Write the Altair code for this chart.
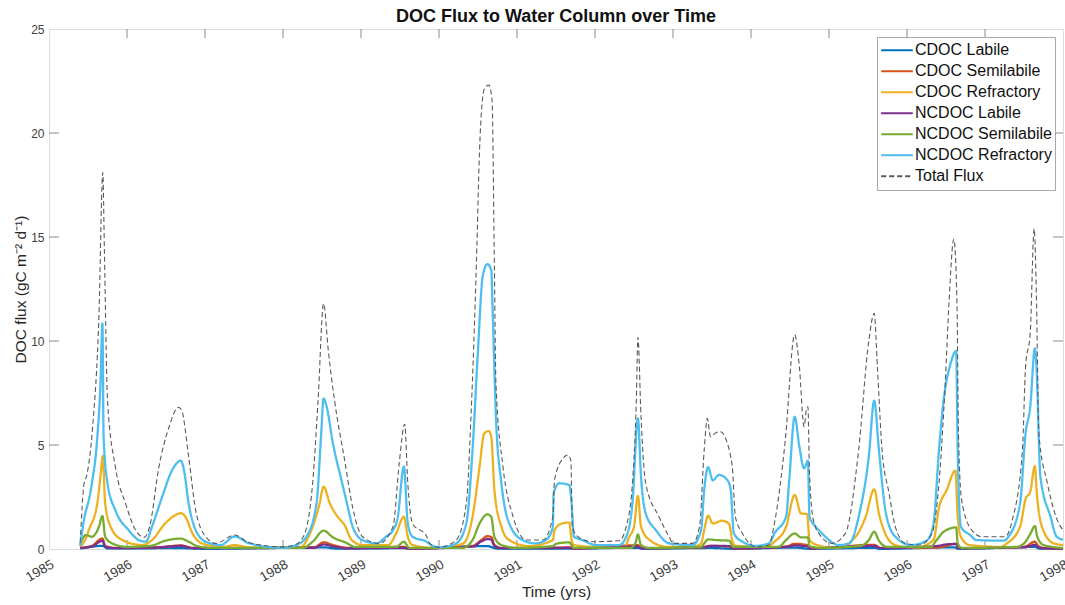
import altair as alt
import pandas as pd

# ---------------- data ----------------
series_names = ["CDOC Labile", "CDOC Semilabile", "CDOC Refractory",
                "NCDOC Labile", "NCDOC Semilabile", "NCDOC Refractory", "Total Flux"]
series_colors = ["#0072BD", "#D95319", "#EDB120", "#7E2F8E", "#77AC30", "#4DBEEE", "#5a5a5a"]

t_cdoc_lab = [1985.40, 1985.685, 1985.75, 1986.69, 1987.0, 1988.52, 1988.7, 1989.55, 1989.62,
              1990.62, 1990.75, 1991.6, 1992.55, 1992.6, 1993.5, 1993.77, 1994.56, 1994.76,
              1995.58, 1995.66, 1996.6, 1996.66, 1997.64, 1997.7, 1998.0]
v_cdoc_lab = [0.02, 0.15, 0.03, 0.04, 0.01, 0.08, 0.02, 0.04, 0.01,
              0.14, 0.02, 0.02, 0.06, 0.01, 0.05, 0.01, 0.07, 0.01,
              0.06, 0.01, 0.08, 0.01, 0.10, 0.02, 0.01]

t_cdoc_semi = [1985.40, 1985.55, 1985.685, 1985.72, 1985.85, 1986.40, 1986.69, 1986.85, 1988.40,
               1988.52, 1988.65, 1988.85, 1989.55, 1989.62, 1990.43, 1990.55, 1990.62, 1990.67,
               1990.71, 1990.80, 1991.50, 1991.67, 1991.73, 1992.55, 1992.60, 1993.40, 1993.45,
               1993.72, 1993.77, 1994.45, 1994.56, 1994.73, 1994.76, 1995.58, 1995.66, 1996.40,
               1996.63, 1996.66, 1997.50, 1997.64, 1997.68, 1997.75, 1998.0]
v_cdoc_semi = [0.05, 0.15, 0.51, 0.15, 0.05, 0.08, 0.17, 0.05, 0.08,
               0.32, 0.18, 0.05, 0.10, 0.02, 0.15, 0.45, 0.62, 0.58,
               0.20, 0.05, 0.06, 0.08, 0.02, 0.18, 0.04, 0.08, 0.15,
               0.12, 0.03, 0.12, 0.25, 0.18, 0.03, 0.20, 0.05, 0.08,
               0.25, 0.04, 0.10, 0.35, 0.15, 0.05, 0.02]

t_cdoc_ref = [1985.40, 1985.47, 1985.51, 1985.62, 1985.66, 1985.69, 1985.72, 1985.79, 1985.94,
              1986.19, 1986.32, 1986.49, 1986.62, 1986.69, 1986.75, 1986.84, 1986.96, 1987.23,
              1987.38, 1987.55, 1988.20, 1988.38, 1988.47, 1988.52, 1988.60, 1988.70, 1988.79,
              1988.88, 1989.02, 1989.35, 1989.45, 1989.55, 1989.60, 1989.66, 1989.95, 1990.31,
              1990.43, 1990.52, 1990.58, 1990.64, 1990.67, 1990.71, 1990.80, 1990.90, 1991.15,
              1991.46, 1991.48, 1991.58, 1991.67, 1991.70, 1991.73, 1992.00, 1992.38, 1992.44,
              1992.50, 1992.55, 1992.59, 1992.70, 1992.93, 1993.30, 1993.36, 1993.40, 1993.45,
              1993.51, 1993.63, 1993.72, 1993.76, 1993.80, 1994.20, 1994.30, 1994.45, 1994.56,
              1994.64, 1994.72, 1994.75, 1994.85, 1995.10, 1995.34, 1995.47, 1995.58, 1995.64,
              1995.73, 1995.85, 1996.10, 1996.34, 1996.41, 1996.51, 1996.62, 1996.65, 1996.69,
              1996.80, 1997.20, 1997.28, 1997.45, 1997.52, 1997.58, 1997.64, 1997.66, 1997.73,
              1997.88, 1998.00]
v_cdoc_ref = [0.10, 0.50, 0.91, 2.20, 3.50, 4.47, 2.20, 1.07, 0.43,
              0.19, 0.43, 1.23, 1.63, 1.72, 1.55, 0.75, 0.27, 0.10,
              0.19, 0.08, 0.05, 1.07, 2.20, 3.00, 2.20, 1.55, 1.15,
              0.43, 0.19, 0.19, 0.75, 1.55, 0.59, 0.19, 0.05, 0.27,
              1.55, 3.96, 5.56, 5.67, 5.40, 2.84, 1.07, 0.43, 0.14,
              0.43, 0.91, 1.23, 1.27, 0.43, 0.19, 0.10, 0.10, 0.59,
              1.07, 2.55, 1.07, 0.43, 0.10, 0.15, 0.27, 0.91, 1.60,
              1.23, 1.36, 1.20, 0.40, 0.15, 0.10, 0.35, 1.07, 2.60,
              1.71, 1.68, 0.43, 0.19, 0.05, 0.59, 1.55, 2.87, 1.71,
              0.67, 0.19, 0.05, 0.43, 1.98, 2.84, 3.77, 1.55, 0.59,
              0.19, 0.10, 0.27, 1.07, 2.40, 2.75, 3.99, 2.90, 1.07,
              0.27, 0.19]

t_ncdoc_lab = [1985.40, 1985.55, 1985.685, 1985.72, 1985.85, 1986.40, 1986.69, 1986.85, 1988.40,
               1988.52, 1988.65, 1988.85, 1989.55, 1989.62, 1990.43, 1990.55, 1990.62, 1990.67,
               1990.71, 1990.80, 1991.50, 1991.67, 1991.73, 1992.55, 1992.60, 1993.40, 1993.50,
               1993.72, 1993.77, 1994.45, 1994.56, 1994.73, 1994.76, 1995.58, 1995.66, 1996.40,
               1996.50, 1996.63, 1996.66, 1997.50, 1997.64, 1997.68, 1997.75, 1998.0]
v_ncdoc_lab = [0.05, 0.12, 0.40, 0.12, 0.04, 0.08, 0.15, 0.04, 0.06,
               0.22, 0.12, 0.03, 0.06, 0.02, 0.12, 0.38, 0.48, 0.45,
               0.15, 0.04, 0.05, 0.06, 0.02, 0.12, 0.03, 0.10, 0.15,
               0.14, 0.03, 0.10, 0.17, 0.12, 0.03, 0.15, 0.04, 0.15,
               0.22, 0.24, 0.04, 0.08, 0.20, 0.10, 0.03, 0.02]

t_ncdoc_semi = [1985.40, 1985.47, 1985.55, 1985.64, 1985.685, 1985.72, 1985.81, 1986.00, 1986.30,
                1986.49, 1986.69, 1986.79, 1986.90, 1987.10, 1988.25, 1988.38, 1988.52, 1988.64,
                1988.81, 1988.92, 1989.45, 1989.55, 1989.62, 1990.30, 1990.43, 1990.52, 1990.62,
                1990.67, 1990.71, 1990.80, 1991.00, 1991.46, 1991.50, 1991.58, 1991.67, 1991.73,
                1992.45, 1992.52, 1992.55, 1992.59, 1992.70, 1993.36, 1993.40, 1993.45, 1993.55,
                1993.72, 1993.77, 1994.35, 1994.45, 1994.56, 1994.64, 1994.73, 1994.75, 1994.90,
                1995.40, 1995.51, 1995.58, 1995.64, 1995.75, 1996.30, 1996.38, 1996.47, 1996.63,
                1996.65, 1996.70, 1997.40, 1997.50, 1997.58, 1997.64, 1997.67, 1997.75, 1998.00]
v_ncdoc_semi = [0.20, 0.67, 0.59, 1.07, 1.59, 0.59, 0.27, 0.10, 0.15,
                0.40, 0.50, 0.35, 0.14, 0.05, 0.05, 0.35, 0.88, 0.56,
                0.30, 0.10, 0.10, 0.35, 0.05, 0.05, 0.43, 1.23, 1.67,
                1.55, 0.59, 0.19, 0.05, 0.14, 0.25, 0.30, 0.32, 0.05,
                0.05, 0.30, 0.70, 0.19, 0.05, 0.10, 0.27, 0.46, 0.43,
                0.40, 0.10, 0.10, 0.43, 0.75, 0.56, 0.56, 0.14, 0.05,
                0.15, 0.43, 0.83, 0.40, 0.10, 0.10, 0.43, 0.83, 1.04,
                0.27, 0.05, 0.10, 0.27, 0.72, 1.10, 0.59, 0.19, 0.05]

t_ncdoc_ref = [1985.40, 1985.47, 1985.49, 1985.55, 1985.62, 1985.66, 1985.685, 1985.70, 1985.75,
               1985.85, 1986.02, 1986.15, 1986.24, 1986.32, 1986.45, 1986.58, 1986.69, 1986.73,
               1986.79, 1986.88, 1987.01, 1987.20, 1987.38, 1987.57, 1988.00, 1988.17, 1988.30,
               1988.43, 1988.49, 1988.52, 1988.56, 1988.64, 1988.75, 1988.81, 1988.90, 1989.02,
               1989.20, 1989.32, 1989.41, 1989.47, 1989.55, 1989.60, 1989.66, 1989.84, 1989.90,
               1990.00, 1990.22, 1990.35, 1990.43, 1990.50, 1990.56, 1990.62, 1990.67, 1990.69,
               1990.73, 1990.80, 1990.90, 1991.07, 1991.24, 1991.37, 1991.46, 1991.47, 1991.54,
               1991.67, 1991.70, 1991.73, 1991.84, 1992.01, 1992.31, 1992.40, 1992.48, 1992.55,
               1992.59, 1992.65, 1992.78, 1992.95, 1993.25, 1993.36, 1993.40, 1993.45, 1993.51,
               1993.59, 1993.70, 1993.74, 1993.78, 1993.89, 1994.06, 1994.23, 1994.30, 1994.45,
               1994.49, 1994.56, 1994.62, 1994.68, 1994.73, 1994.75, 1994.83, 1994.91, 1995.13,
               1995.26, 1995.38, 1995.51, 1995.58, 1995.64, 1995.73, 1995.85, 1996.05, 1996.26,
               1996.34, 1996.41, 1996.47, 1996.56, 1996.63, 1996.65, 1996.69, 1996.81, 1996.89,
               1997.24, 1997.30, 1997.45, 1997.52, 1997.58, 1997.64, 1997.66, 1997.71, 1997.84,
               1997.92, 1998.00]
v_ncdoc_ref = [0.15, 1.80, 2.05, 3.16, 5.40, 7.96, 10.85, 5.40, 3.16,
               1.87, 0.91, 0.43, 0.35, 1.07, 2.50, 3.80, 4.25, 3.80,
               2.20, 0.91, 0.35, 0.19, 0.60, 0.27, 0.06, 0.19, 0.59,
               2.20, 5.56, 7.24, 6.84, 5.08, 3.30, 2.36, 1.00, 0.43,
               0.27, 0.59, 0.90, 1.50, 3.96, 1.23, 0.59, 0.35, 0.19,
               0.08, 0.27, 1.23, 4.76, 9.57, 13.10, 13.70, 13.40, 11.20,
               6.36, 3.16, 1.23, 0.43, 0.27, 0.43, 1.07, 2.68, 3.16,
               3.08, 2.20, 0.59, 0.43, 0.19, 0.19, 0.59, 2.20, 6.28,
               3.48, 1.71, 0.91, 0.27, 0.19, 0.91, 2.84, 3.93, 3.30,
               3.56, 3.30, 2.84, 0.75, 0.35, 0.15, 0.27, 0.75, 1.55,
               3.30, 6.36, 4.92, 3.88, 4.25, 1.55, 1.07, 0.75, 0.19,
               0.27, 1.55, 4.44, 7.13, 4.76, 1.71, 0.59, 0.19, 0.43,
               1.23, 4.76, 7.16, 8.93, 9.52, 4.76, 1.07, 0.67, 0.43,
               0.40, 0.59, 2.20, 5.56, 6.84, 9.65, 8.77, 3.48, 1.55,
               0.59, 0.45]

t_total = [1985.40, 1985.45, 1985.48, 1985.56, 1985.64, 1985.69, 1985.71, 1985.75, 1985.85,
           1985.98, 1986.11, 1986.22, 1986.29, 1986.41, 1986.54, 1986.66, 1986.70, 1986.79,
           1986.88, 1987.01, 1987.14, 1987.38, 1987.57, 1988.00, 1988.15, 1988.26, 1988.38,
           1988.45, 1988.52, 1988.58, 1988.66, 1988.79, 1988.90, 1989.02, 1989.23, 1989.41,
           1989.49, 1989.56, 1989.60, 1989.66, 1989.84, 1989.88, 1990.00, 1990.22, 1990.35,
           1990.41, 1990.48, 1990.52, 1990.58, 1990.64, 1990.68, 1990.71, 1990.73, 1990.82,
           1990.95, 1991.12, 1991.33, 1991.46, 1991.48, 1991.59, 1991.65, 1991.69, 1991.71,
           1991.78, 1991.97, 1992.31, 1992.40, 1992.48, 1992.53, 1992.55, 1992.59, 1992.65,
           1992.82, 1992.95, 1993.00, 1993.25, 1993.34, 1993.40, 1993.44, 1993.48, 1993.55,
           1993.61, 1993.69, 1993.74, 1993.76, 1993.80, 1993.89, 1994.06, 1994.23, 1994.30,
           1994.44, 1994.56, 1994.62, 1994.68, 1994.71, 1994.73, 1994.75, 1994.80, 1994.87,
           1995.04, 1995.21, 1995.38, 1995.51, 1995.58, 1995.62, 1995.68, 1995.77, 1995.85,
           1995.98, 1996.16, 1996.32, 1996.41, 1996.49, 1996.54, 1996.60, 1996.64, 1996.66,
           1996.70, 1996.83, 1996.96, 1997.26, 1997.35, 1997.48, 1997.52, 1997.58, 1997.63,
           1997.66, 1997.69, 1997.80, 1997.91, 1998.00]
v_total = [0.30, 3.16, 3.48, 5.90, 11.20, 18.10, 14.40, 7.16, 3.96,
           2.20, 0.91, 0.56, 1.07, 3.96, 5.88, 6.81, 6.68, 4.44,
           1.87, 0.59, 0.27, 0.67, 0.30, 0.10, 0.20, 0.59, 3.16,
           7.16, 11.80, 9.57, 7.16, 4.28, 1.87, 0.59, 0.27, 1.07,
           4.12, 6.00, 3.16, 1.23, 0.62, 0.27, 0.08, 0.43, 2.20,
           6.36, 13.80, 19.20, 22.10, 22.30, 21.60, 13.60, 7.96, 3.96,
           1.55, 0.43, 0.43, 1.55, 3.30, 4.36, 4.52, 4.28, 1.07,
           0.59, 0.35, 0.40, 1.07, 3.16, 7.16, 10.18, 6.36, 3.16,
           1.55, 0.59, 0.27, 0.27, 1.07, 4.76, 6.28, 5.40, 5.59,
           5.64, 5.16, 4.44, 3.96, 1.55, 0.75, 0.11, 0.19, 1.23,
           5.24, 10.30, 8.77, 5.88, 6.68, 6.84, 3.64, 1.39, 0.75,
           0.27, 0.75, 4.76, 10.00, 11.33, 8.77, 4.76, 2.68, 1.07,
           0.27, 0.19, 0.75, 3.16, 7.96, 11.97, 14.90, 12.00, 5.56,
           2.36, 0.91, 0.59, 0.59, 1.39, 4.76, 8.77, 10.40, 15.40,
           12.00, 5.56, 3.16, 1.55, 0.90]

year_ticks = list(range(1985, 1999))
flux_ticks = [0, 5, 10, 15, 20, 25]

# ---------------- build long table ----------------
series_data = [
    (series_names[0], t_cdoc_lab, v_cdoc_lab),
    (series_names[1], t_cdoc_semi, v_cdoc_semi),
    (series_names[2], t_cdoc_ref, v_cdoc_ref),
    (series_names[3], t_ncdoc_lab, v_ncdoc_lab),
    (series_names[4], t_ncdoc_semi, v_ncdoc_semi),
    (series_names[5], t_ncdoc_ref, v_ncdoc_ref),
    (series_names[6], t_total, v_total),
]
rows = []
for name, ts, vs in series_data:
    for t, v in zip(ts, vs):
        rows.append({"series": name, "t": t, "v": v})
df = pd.DataFrame(rows)

W, H = 1014, 520
FONT = "Liberation Sans"
AXIS_GRAY = "#8a8a8a"
TEXT_GRAY = "#404040"

x_scale = alt.Scale(domain=[1985, 1998], nice=False, zero=False)
y_scale = alt.Scale(domain=[0, 25], nice=False, zero=True)

x_enc = alt.X("t:Q", scale=x_scale,
              axis=alt.Axis(title="Time (yrs)", values=year_ticks, format="d",
                            labelAngle=330, labelFontSize=13.5, labelColor=TEXT_GRAY,
                            labelFont=FONT, labelPadding=8, ticks=False, domain=False,
                            grid=False, titleFont=FONT, titleFontSize=15.5,
                            titleFontWeight="normal", titleColor="#262626",
                            titleY=42, titleBaseline="middle"))
y_enc = alt.Y("v:Q", scale=y_scale,
              axis=alt.Axis(title="DOC flux (gC m⁻² d⁻¹)", values=flux_ticks,
                            labelFontSize=12, labelColor=TEXT_GRAY, labelFont=FONT,
                            labelPadding=5, ticks=False, domain=False, grid=False,
                            titleFont=FONT, titleFontSize=15.5, titleFontWeight="normal",
                            titleColor="#262626", titleX=-29, titleY=H / 2,
                            titleBaseline="middle"))

legend = alt.Legend(title=None, orient="top-right", offset=8, padding=3,
                    strokeColor="#a8a8a8", fillColor="white",
                    labelFont=FONT, labelFontSize=16, labelColor="#111111",
                    symbolType="stroke", symbolSize=1000, symbolStrokeWidth=2,
                    clipHeight=20.7, rowPadding=0, labelOffset=1, labelLimit=300)

color_enc = alt.Color("series:N", scale=alt.Scale(domain=series_names, range=series_colors),
                      sort=series_names, legend=legend)
dash_enc = alt.StrokeDash("series:N",
                          scale=alt.Scale(domain=series_names,
                                          range=[[1, 0]] * 6 + [[5, 3]]),
                          sort=series_names, legend=legend)

base = alt.Chart(df)

colored = base.transform_filter(alt.datum.series != "Total Flux").mark_line(
    strokeWidth=2.3, interpolate="monotone").encode(
    x=x_enc, y=y_enc, color=color_enc, strokeDash=dash_enc)

total = base.transform_filter(alt.datum.series == "Total Flux").mark_line(
    strokeWidth=1.1, interpolate="monotone").encode(
    x=x_enc, y=y_enc, color=color_enc, strokeDash=dash_enc)

# inward MATLAB-style ticks
xt = pd.DataFrame({"t": year_ticks[1:-1]})
yt = pd.DataFrame({"v": flux_ticks[1:-1]})
xtick_bottom = alt.Chart(xt).mark_rule(color=AXIS_GRAY, strokeWidth=1).encode(
    x=x_enc, y=alt.value(H), y2=alt.value(H - 9))
xtick_top = alt.Chart(xt).mark_rule(color=AXIS_GRAY, strokeWidth=1).encode(
    x=x_enc, y=alt.value(0), y2=alt.value(9))
ytick_left = alt.Chart(yt).mark_rule(color=AXIS_GRAY, strokeWidth=1).encode(
    y=y_enc, x=alt.value(0), x2=alt.value(10))
ytick_right = alt.Chart(yt).mark_rule(color=AXIS_GRAY, strokeWidth=1).encode(
    y=y_enc, x=alt.value(W), x2=alt.value(W - 10))

chart = alt.layer(xtick_bottom, xtick_top, ytick_left, ytick_right, colored, total).properties(
    width=W, height=H,
    title=alt.Title("DOC Flux to Water Column over Time", font=FONT, fontSize=18,
                    fontWeight="bold", color="#111111", anchor="middle", frame="group",
                    offset=4, dy=7),
    autosize=alt.AutoSizeParams(type="none"),
    padding={"left": 49, "top": 29, "right": 2, "bottom": 56},
).configure_view(stroke=AXIS_GRAY, strokeWidth=1).configure(background="white")

chart.save("out.html", embed_options={"renderer": "svg", "actions": False})
